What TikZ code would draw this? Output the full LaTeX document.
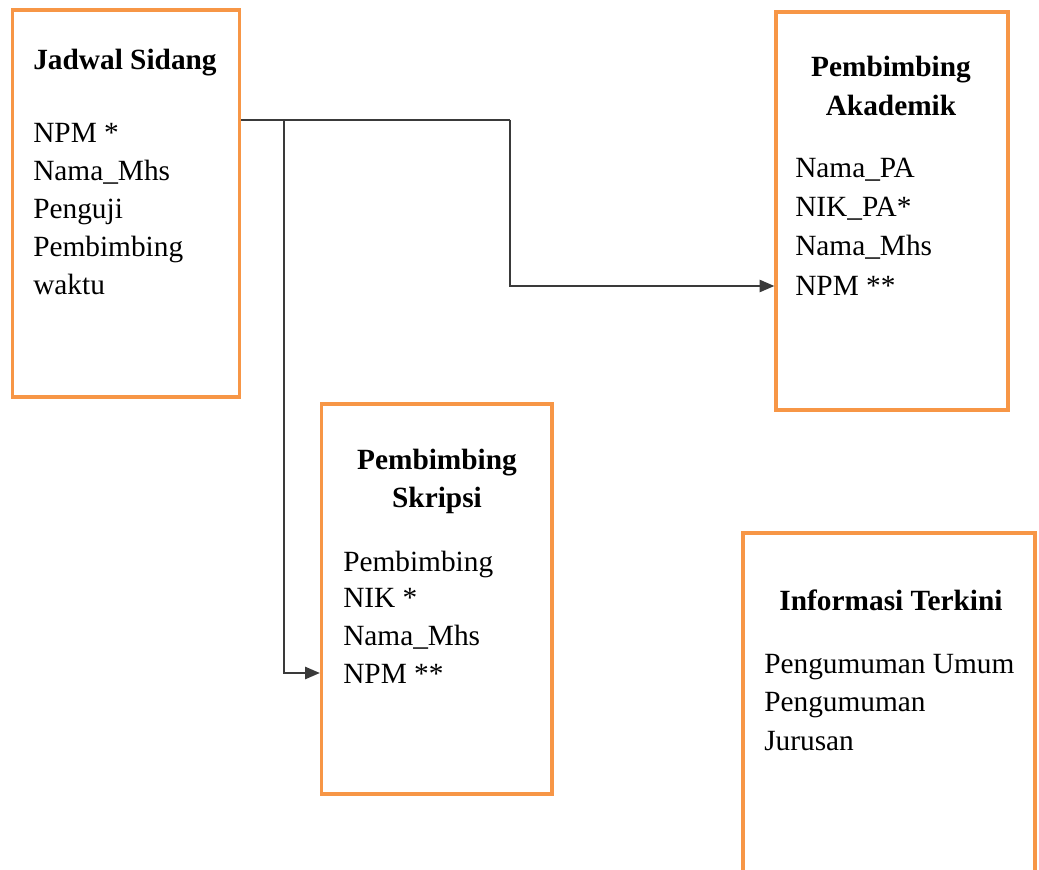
\documentclass[tikz,border=0pt]{standalone}
\usepackage{fontspec}
\setmainfont{Liberation Serif}
\usetikzlibrary{arrows.meta,fit}
\definecolor{boxorange}{HTML}{F79646}
\definecolor{linegray}{HTML}{3A3A3A}
\tikzset{
  box/.style={draw=boxorange, line width=2.4pt, inner sep=0pt, rectangle},
  title/.style={font=\fontsize{22}{26}\selectfont\bfseries, anchor=base, inner sep=0pt},
  item/.style={font=\fontsize{22}{26}\selectfont, anchor=base west, inner sep=0pt},
  conn/.style={draw=linegray, line width=1.6pt, -{Triangle[length=11pt,width=9pt]}},
  plainline/.style={draw=linegray, line width=1.6pt},
}
\begin{document}
\begin{tikzpicture}[x=0.75pt,y=-0.75pt]
\clip (0,0) rectangle (1039,870);
\fill[white] (0,0) rectangle (1039,870);
% boxes
\node[box, fit={(12.5,10) (239.5,397)}] (js) {};
\node[box, fit={(776,12) (1008,410)}] (pa) {};
\node[box, fit={(321.5,404) (552,794)}] (ps) {};
\node[box, fit={(743,533) (1035,900)}] (it) {};
% Jadwal Sidang
\node[item, font=\fontsize{22}{26}\selectfont\bfseries] (jsT) at (33,70) {Jadwal Sidang};
\node[item] (js1) at (33,143) {NPM *};
\node[item] (js2) at (33,181) {Nama\_Mhs};
\node[item] (js3) at (33,219) {Penguji};
\node[item] (js4) at (33,257) {Pembimbing};
\node[item] (js5) at (33,294) {waktu};
% Pembimbing Akademik
\node[title] (paT1) at (891,77) {Pembimbing};
\node[title] (paT2) at (891,116) {Akademik};
\node[item] (pa1) at (795,178) {Nama\_PA};
\node[item] (pa2) at (795,217) {NIK\_PA*};
\node[item] (pa3) at (795,256) {Nama\_Mhs};
\node[item] (pa4) at (795,295) {NPM **};
% Pembimbing Skripsi
\node[title] (psT1) at (437,469) {Pembimbing};
\node[title] (psT2) at (437,507) {Skripsi};
\node[item] (ps1) at (343,571) {Pembimbing};
\node[item] (ps2) at (343,607) {NIK *};
\node[item] (ps3) at (343,645) {Nama\_Mhs};
\node[item] (ps4) at (343,683) {NPM **};
% Informasi Terkini
\node[title] (itT) at (891,610) {Informasi Terkini};
\node[item] (it1) at (764,673) {Pengumuman Umum};
\node[item] (it2) at (764,711) {Pengumuman};
\node[item] (it3) at (764,750) {Jurusan};
% connectors
\coordinate (jout) at (js.east |- 0,120);
\coordinate (bend) at (510,120);
\coordinate (branch) at (284,120);
\draw[plainline] (jout) -- (bend);
\draw[conn] (bend) |- (pa.west |- 0,286);
\draw[conn] (branch) |- (ps.west |- 0,673);
\end{tikzpicture}
\end{document}
